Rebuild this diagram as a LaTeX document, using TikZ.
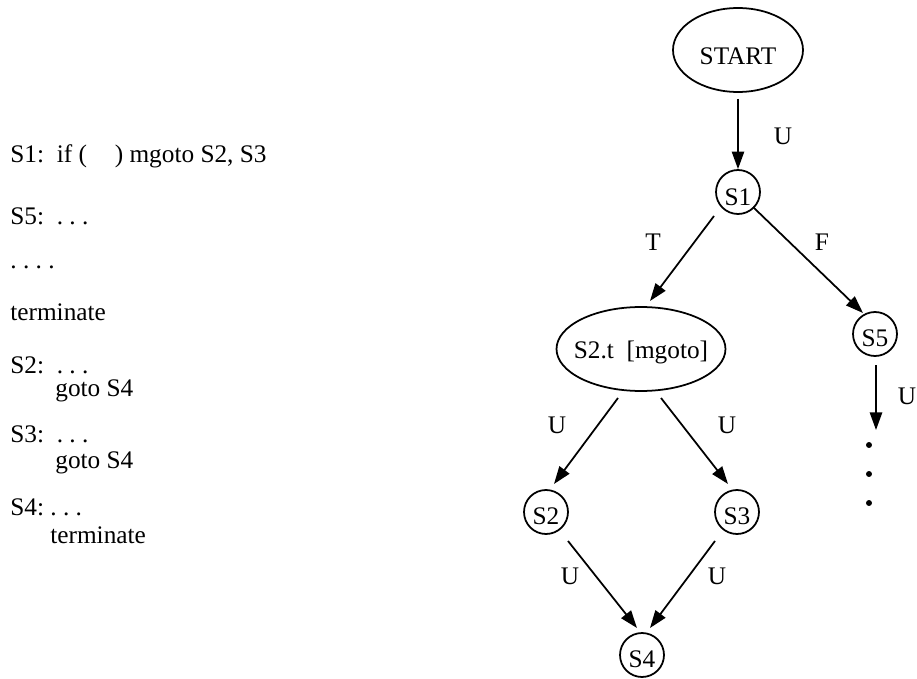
\documentclass[tikz,border=0pt]{standalone}
\usepackage{fontspec}
\setmainfont{Liberation Serif}
\usetikzlibrary{arrows.meta,shapes.geometric}
\begin{document}
\begin{tikzpicture}[x=0.02cm,y=-0.02cm,
  font=\fontsize{14.4}{17}\selectfont,
  every node/.style={inner sep=0pt},
  code/.style={anchor=base west},
  state/.style={draw,circle,line width=1pt,minimum size=0.88cm},
  oval/.style={draw,ellipse,line width=1pt},
  lbl/.style={},
  flow/.style={line width=1pt,-{Triangle[length=10pt,width=7pt]}},
  dot/.style={fill,circle,minimum size=3.4pt}]
\useasboundingbox (0,0) rectangle (917,679);

% program text
\node[code] (l1) at (10,163) {S1:\ \ if (\hspace{1.1em}) mgoto S2, S3};
\node[code] (l2) at (10,225) {S5:\ \ .\ .\ .};
\node[code] (l3) at (10,269) {.\ .\ .\ .};
\node[code] (l4) at (10,320) {terminate};
\node[code] (l5) at (10,373) {S2:\ \ .\ .\ .};
\node[code] (l6) at (55,396) {goto S4};
\node[code] (l7) at (10,442) {S3:\ \ .\ .\ .};
\node[code] (l8) at (55,468) {goto S4};
\node[code] (l9) at (10,515) {S4:\ .\ .\ .};
\node[code] (l10) at (50,543) {terminate};

% graph nodes
\node[oval,minimum width=2.6cm,minimum height=1.68cm] (start) at (738,50) {};
\node (starttxt) at (738,56) {START};
\node[state] (s1) at (738,192) {};
\node (s1txt) at (738,197) {S1};
\node[oval,minimum width=3.38cm,minimum height=1.68cm] (s2t) at (641,349) {};
\node (s2ttxt) at (641,352) {S2.t\ \ [mgoto]};
\node[state] (s5) at (875,334) {};
\node (s5txt) at (875,338) {S5};
\node[state] (s2) at (546,512) {};
\node (s2txt) at (546,516) {S2};
\node[state] (s3) at (737,512) {};
\node (s3txt) at (737,516) {S3};
\node[state] (s4) at (642,655) {};
\node (s4txt) at (642,659) {S4};

\coordinate (s5end) at (876,430);
\node[dot] (d1) at (869,445) {};
\node[dot] (d2) at (869,474) {};
\node[dot] (d3) at (869,503) {};

% connectors
\draw[flow] (738,99) -- (s1);
\draw[flow] (714,216) -- (650,301);
\draw[flow] (753,207) -- (863,313);
\draw[flow] (876,365) -- (s5end);
\draw[flow] (618,398) -- (554,484);
\draw[flow] (661,398) -- (728,484);
\draw[flow] (568,541) -- (637,628);
\draw[flow] (715,541) -- (650,628);

% edge labels
\node[lbl] (u0) at (783,136) {U};
\node[lbl] (t) at (653,242) {T};
\node[lbl] (f) at (822,242) {F};
\node[lbl] (u5) at (907,396) {U};
\node[lbl] (ua) at (557,425) {U};
\node[lbl] (ub) at (727,425) {U};
\node[lbl] (uc) at (570,576) {U};
\node[lbl] (ud) at (717,576) {U};
\end{tikzpicture}
\end{document}
